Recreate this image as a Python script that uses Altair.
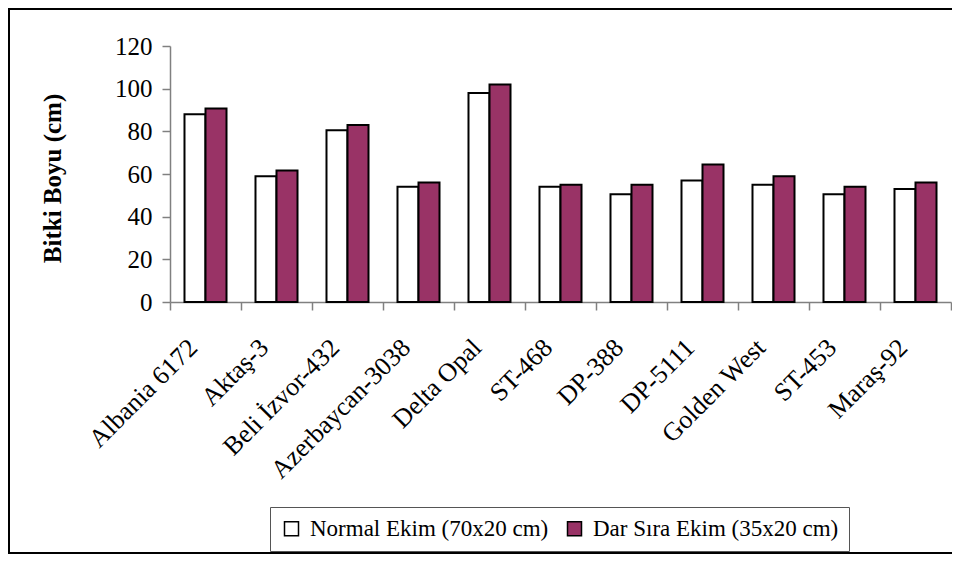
import altair as alt
import pandas as pd

cultivars = ["Albania 6172", "Aktaş-3", "Beli İzvor-432", "Azerbaycan-3038", "Delta Opal",
             "ST-468", "DP-388", "DP-5111", "Golden West", "ST-453", "Maraş-92"]
series = ["Normal Ekim (70x20 cm)", "Dar Sıra Ekim (35x20 cm)"]
normal = [88, 59, 80.5, 54, 98, 54, 50.5, 57, 55, 50.5, 53]
dar = [90.7, 61.6, 83, 56, 102, 55, 55, 64.5, 59, 54, 56]
colors = ["#ffffff", "#993366"]
y_ticks = [0, 20, 40, 60, 80, 100, 120]

rows = []
for c, n, d in zip(cultivars, normal, dar):
    rows.append({"Cultivar": c, "Series": series[0], "Value": n})
    rows.append({"Cultivar": c, "Series": series[1], "Value": d})
df = pd.DataFrame(rows)

FONT = "Liberation Serif"

bars = alt.Chart(df).mark_bar(stroke="black", strokeWidth=2).encode(
    x=alt.X("Cultivar:N", sort=cultivars,
            scale=alt.Scale(paddingInner=0, paddingOuter=0),
            axis=alt.Axis(title=None, labelAngle=-45, tickBand="extent",
                          labelFont=FONT, labelFontSize=26, labelColor="black",
                          labelPadding=24, labelOffset=-22, tickSize=8, tickColor="#808080",
                          domainColor="#808080", tickWidth=1.5, domainWidth=1.5,
                          labelLimit=0)),
    xOffset=alt.XOffset("Series:N", sort=series,
                        scale=alt.Scale(paddingOuter=0.69, paddingInner=0)),
    y=alt.Y("Value:Q", scale=alt.Scale(domain=[0, 120], nice=False),
            axis=alt.Axis(values=y_ticks, grid=False, title="Bitki Boyu (cm)",
                          labelFont=FONT, labelFontSize=25, labelColor="black",
                          labelPadding=10, tickSize=8, tickColor="#808080",
                          domainColor="#808080", tickWidth=1.5, domainWidth=1.5,
                          titleFont=FONT, titleFontSize=25, titleFontWeight="bold",
                          titleColor="black", titleX=-105, titleY=132)),
    fill=alt.Fill("Series:N", sort=series,
                  scale=alt.Scale(domain=series, range=colors),
                  legend=alt.Legend(title=None, orient="none", legendX=100, legendY=461,
                                    direction="horizontal", strokeColor="#555555",
                                    padding=10, symbolType="square", symbolSize=196,
                                    symbolStrokeColor="black", symbolStrokeWidth=1.5,
                                    labelFont=FONT, labelFontSize=23, labelColor="black",
                                    labelLimit=0, labelOffset=7, columnPadding=14)),
)

frame = alt.Chart(pd.DataFrame({"a": [0]})).mark_rect(
    fill="transparent", stroke="black", strokeWidth=2
).encode(
    x=alt.value(-161), x2=alt.value(800), y=alt.value(-37), y2=alt.value(507)
)

chart = alt.layer(frame, bars).properties(
    width=781, height=256,
    padding={"left": 162, "top": 38, "right": 1, "bottom": 253},
    autosize=alt.AutoSizeParams(type="none"),
).configure_view(stroke=None).configure_legend(
    labelFont=FONT, labelFontSize=23, labelColor="black"
)

chart.save("out.html", embed_options={"renderer": "svg", "actions": False})
